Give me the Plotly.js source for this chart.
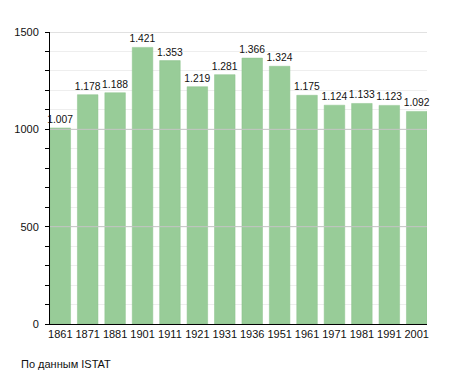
<!DOCTYPE html>
<html><head><meta charset="utf-8">
<script src="https://cdn.plot.ly/plotly-3.0.1.min.js"></script>
<style>html,body{margin:0;padding:0;background:#fff}#c{width:455px;height:373px}</style>
</head><body><div id="c"></div>
<script>
const years = ['1861','1871','1881','1901','1911','1921','1931','1936','1951','1961','1971','1981','1991','2001'];
const population = [1007,1178,1188,1421,1353,1219,1281,1366,1324,1175,1124,1133,1123,1092];
const yTicks = [0,500,1000,1500];
const source = 'По данным ISTAT';

const barWidth = 0.75;
const shapes = yTicks.filter(v => v > 0).map(v => ({
  type:'line', xref:'paper', x0:0, x1:1, yref:'y', y0:v, y1:v,
  line:{color:'#c4c4c4', width:1}, layer:'above'
}));

Plotly.newPlot('c', [{
  type:'bar', x:years, y:population, width:barWidth,
  marker:{color:'#98cc98', line:{color:'#8cc28c', width:0.5}},
  texttemplate:'%{y:,}', textposition:'outside', cliponaxis:false, constraintext:'none',
  textfont:{family:'Liberation Sans, Arial, sans-serif', size:10.3, color:'#111'},
  hoverinfo:'none'
}], {
  width:455, height:373,
  margin:{l:50, r:28, t:32, b:49},
  separators:',.',
  paper_bgcolor:'#fff', plot_bgcolor:'#fff',
  font:{family:'Liberation Sans, Arial, sans-serif', size:11, color:'#111'},
  showlegend:false,
  bargap:0.25,
  xaxis:{type:'category', range:[-barWidth/2, years.length-1+barWidth/2],
    showline:true, linecolor:'#000', linewidth:1, ticks:'', showgrid:false,
    tickfont:{size:11}, zeroline:false, ticklabelstandoff:0},
  yaxis:{range:[0,1500], tickvals:yTicks, ticktext:yTicks.map(String),
    showline:true, linecolor:'#000', linewidth:1, ticks:'outside', ticklen:4, tickcolor:'#000',
    showgrid:false, zeroline:false, tickfont:{size:11}, ticklabelstandoff:4,
    minor:{dtick:100, tick0:0, ticks:'outside', ticklen:4, tickcolor:'#000', showgrid:true, gridcolor:'#eeeeee', gridwidth:1}},
  shapes:shapes,
  annotations:[{text:source, xref:'paper', yref:'paper', x:-0.082, y:-0.11, xanchor:'left', yanchor:'top', showarrow:false,
    font:{size:11, color:'#111'}}]
}, {staticPlot:true});
</script></body></html>
